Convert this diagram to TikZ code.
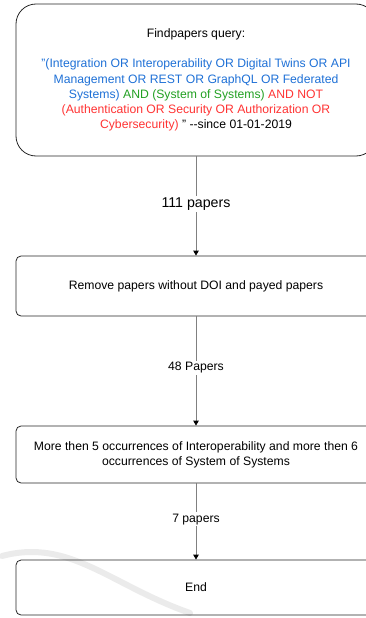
\documentclass[tikz,border=0pt]{standalone}
\usepackage{fontspec}
\setmainfont{Liberation Sans}
\usetikzlibrary{arrows.meta}
\definecolor{qblue}{RGB}{30,112,214}
\definecolor{qgreen}{RGB}{34,160,34}
\definecolor{qred}{RGB}{255,51,51}
\definecolor{edgegray}{RGB}{128,128,128}
\begin{document}
\begin{tikzpicture}[x=1pt,y=-1pt,
  box/.style={draw=black!85, line width=0.8pt, rounded corners=5pt, minimum width=360pt, align=center, inner sep=0pt,
    font=\fontsize{12.2}{15.2}\selectfont},
  conn/.style={draw=edgegray, line width=0.9pt, -{Triangle[length=5pt,width=5.5pt,color=black]}},
  lbl/.style={fill=white, inner sep=1.5pt, font=\fontsize{12.2}{15.2}\selectfont},
  biglbl/.style={fill=white, inner sep=1.5pt, font=\fontsize{14.2}{17}\selectfont}]
\useasboundingbox (0,0) rectangle (366,618);
% faint watermark swoosh
\draw[line width=6pt, color=black!8, line cap=round] (2,556) .. controls (70,538) and (110,585) .. (190,613);
\node[box, rounded corners=20pt, minimum height=152pt] (q) at (196,80)
 {Findpapers query:\\[15.2pt]
 \textcolor{qblue}{"(Integration OR Interoperability OR Digital Twins OR API}\\
 \textcolor{qblue}{Management OR REST OR GraphQL OR Federated}\\
 \textcolor{qblue}{Systems)} \textcolor{qgreen}{AND (System of Systems)} \textcolor{qred}{AND NOT}\\
 \textcolor{qred}{(Authentication OR Security OR Authorization OR}\\
 \textcolor{qred}{Cybersecurity)} " {-}{-}since 01-01-2019};
\node[box, minimum height=60pt] (r) at (196,286) {Remove papers without DOI and payed papers};
\node[box, minimum height=57pt] (m) at (196,454.5) {More then 5 occurrences of Interoperability and more then 6\\occurrences of System of Systems};
\node[box, minimum height=55pt] (e) at (196,587.5) {End};
\draw[conn] (q) -- node[biglbl, pos=0.48] {111 papers} (r);
\draw[conn] (r) -- node[lbl, pos=0.47] {48 Papers} (m);
\draw[conn] (m) -- node[lbl, pos=0.47] {7 papers} (e);
\end{tikzpicture}
\end{document}
